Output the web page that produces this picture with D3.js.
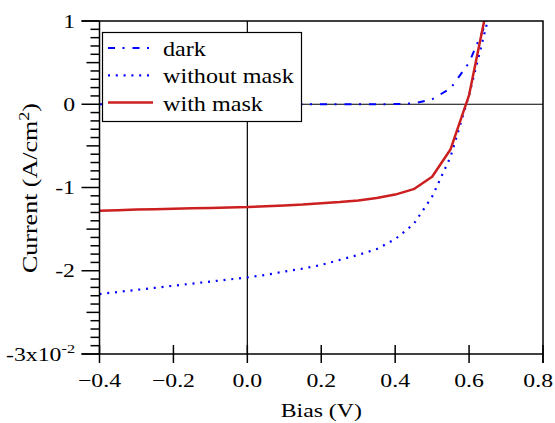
<!DOCTYPE html>
<html>
<head>
<meta charset="utf-8">
<script src="https://cdn.jsdelivr.net/npm/d3@7"></script>
<style>
  body { margin: 0; background: #fff; }
  svg { display: block; }
</style>
</head>
<body>
<svg id="chart" width="555" height="423" font-family="'Liberation Serif', serif"></svg>
<script>
// Bias (V) sample points
const bias = [-0.4, -0.35, -0.3, -0.25, -0.2, -0.15, -0.1, -0.05, 0, 0.05, 0.1, 0.15, 0.2, 0.25, 0.3, 0.35, 0.4, 0.45, 0.5, 0.55, 0.6, 0.65];

// current, units of 1e-2 A/cm^2
const dark = [0, 0, 0, 0, 0, 0, 0, 0, 0, 0, 0, 0, 0, 0, 0, 0, 0.002, 0.01, 0.06, 0.19, 0.50, 1.02];
const withoutMask = [-2.28, -2.255, -2.23, -2.205, -2.18, -2.155, -2.13, -2.105, -2.08, -2.05, -2.01, -1.975, -1.93, -1.87, -1.81, -1.74, -1.62, -1.44, -1.11, -0.63, 0.11, 1.0];
const withMask = [-1.28, -1.272, -1.265, -1.26, -1.255, -1.25, -1.245, -1.24, -1.235, -1.225, -1.215, -1.205, -1.19, -1.175, -1.155, -1.125, -1.085, -1.02, -0.87, -0.54, 0.11, 1.2];

const xTicks = [-0.4, -0.2, 0.0, 0.2, 0.4, 0.6, 0.8];
const yTicks = [1, 0, -1, -2, -3];

const series = [
    { name: 'dark', values: dark, color: '#0000ff', width: 2, dash: '7,7.5,2,8' },
    { name: 'without mask', values: withoutMask, color: '#0000ff', width: 2.2, dash: '2,5.8' },
    { name: 'with mask', values: withMask, color: '#cc1f1f', width: 2.5, dash: null },
];

const svg = d3.select('#chart');
const L = 99.5, R = 543, T = 21, B = 354;
const AX_FONT = 19, AX_SX = 1.25;   // reference type is wide, stretch a bit

const x = d3.scaleLinear().domain([-0.4, 0.8]).range([L, R]);
const y = d3.scaleLinear().domain([-3, 1]).range([B, T]);

// text placed at (px,py), stretched horizontally (along its own baseline) by sx
function label(parent, px, py, size, sx, anchor, rot) {
    return parent.append('text')
        .attr('transform', 'translate(' + px + ',' + py + ')' + (rot ? ' rotate(' + rot + ')' : '') + ' scale(' + sx + ',1)')
        .attr('text-anchor', anchor)
        .attr('font-size', size);
}

svg.append('clipPath').attr('id', 'plot')
    .append('rect').attr('x', L).attr('y', T).attr('width', R - L).attr('height', B - T);

// zero lines
svg.append('line')
    .attr('x1', L).attr('x2', R).attr('y1', y(0)).attr('y2', y(0))
    .attr('stroke', '#000').attr('stroke-width', 1.2);
svg.append('line')
    .attr('x1', x(0)).attr('x2', x(0)).attr('y1', T).attr('y2', B)
    .attr('stroke', '#000').attr('stroke-width', 1.2);

// curves
const line = d3.line()
    .x(function(d, i) { return x(bias[i]); })
    .y(function(d) { return y(d); });

const curves = svg.append('g').attr('clip-path', 'url(#plot)');
series.forEach(function(s) {
    curves.append('path')
        .datum(s.values)
        .attr('d', line)
        .attr('fill', 'none')
        .attr('stroke', s.color)
        .attr('stroke-width', s.width)
        .attr('stroke-dasharray', s.dash)
        .attr('stroke-linejoin', 'round');
});

// frame: top and right
svg.append('path')
    .attr('d', 'M' + (L - 18) + ',' + T + 'H' + R + 'V' + (B + 9))
    .attr('fill', 'none').attr('stroke', '#000').attr('stroke-width', 1.5);

// left axis, outward ticks (major / half / minor)
const yAxis = svg.append('g');
yAxis.append('line')
    .attr('x1', L).attr('x2', L).attr('y1', T).attr('y2', B)
    .attr('stroke', '#000').attr('stroke-width', 1.5);
d3.range(-30, 11).forEach(function(k) {
    const v = k / 10;
    const len = k % 10 === 0 ? 18 : (Math.abs(k % 5) === 0 ? 13 : 9);
    yAxis.append('line')
        .attr('x1', L - len).attr('x2', L).attr('y1', y(v)).attr('y2', y(v))
        .attr('stroke', '#000').attr('stroke-width', 1.5);
});
yTicks.forEach(function(v) {
    const t = label(yAxis, 75, y(v) + 6.5, AX_FONT, AX_SX, 'end');
    if (v === -3) {
        t.append('tspan').text('-3x10');
        t.append('tspan').attr('dy', -8).attr('font-size', 13).text('-2');
    } else {
        t.text(String(v));
    }
});

// bottom axis, ticks crossing the line
const xAxis = svg.append('g');
xAxis.append('line')
    .attr('x1', L - 18).attr('x2', R).attr('y1', B).attr('y2', B)
    .attr('stroke', '#000').attr('stroke-width', 1.5);
xTicks.forEach(function(v) {
    xAxis.append('line')
        .attr('x1', x(v)).attr('x2', x(v)).attr('y1', B - 9).attr('y2', B + 9)
        .attr('stroke', '#000').attr('stroke-width', 1.5);
    const t = label(xAxis, x(v), 387, AX_FONT, AX_SX, 'middle').text(d3.format('.1f')(v));
    // keep the last label inside the window
    const w = t.node().getComputedTextLength() * AX_SX;
    if (x(v) + w / 2 > 553) {
        t.attr('transform', 'translate(553,387) scale(' + AX_SX + ',1)').attr('text-anchor', 'end');
    }
});

// axis titles
label(svg, (L + R) / 2, 417, AX_FONT, AX_SX, 'middle').text('Bias (V)');

const yt = label(svg, 37, 188, AX_FONT + 1, 1.3, 'middle', -90);
yt.append('tspan').text('Current (A/cm');
yt.append('tspan').attr('dy', -8).attr('font-size', 14).text('2');
yt.append('tspan').attr('dy', 8).text(')');

// legend
const lg = svg.append('g');
lg.append('rect')
    .attr('x', 102.5).attr('y', 32.5).attr('width', 199).attr('height', 89)
    .attr('fill', '#fff').attr('stroke', '#000').attr('stroke-width', 1.2);
series.forEach(function(s, i) {
    const cy = 48 + i * 27.3;
    lg.append('line')
        .attr('x1', 108).attr('x2', 153).attr('y1', cy).attr('y2', cy)
        .attr('stroke', s.color)
        .attr('stroke-width', s.width)
        .attr('stroke-dasharray', s.dash);
    label(lg, 163, cy + 8, 21, 1.15, 'start').text(s.name);
});
</script>
</body>
</html>
